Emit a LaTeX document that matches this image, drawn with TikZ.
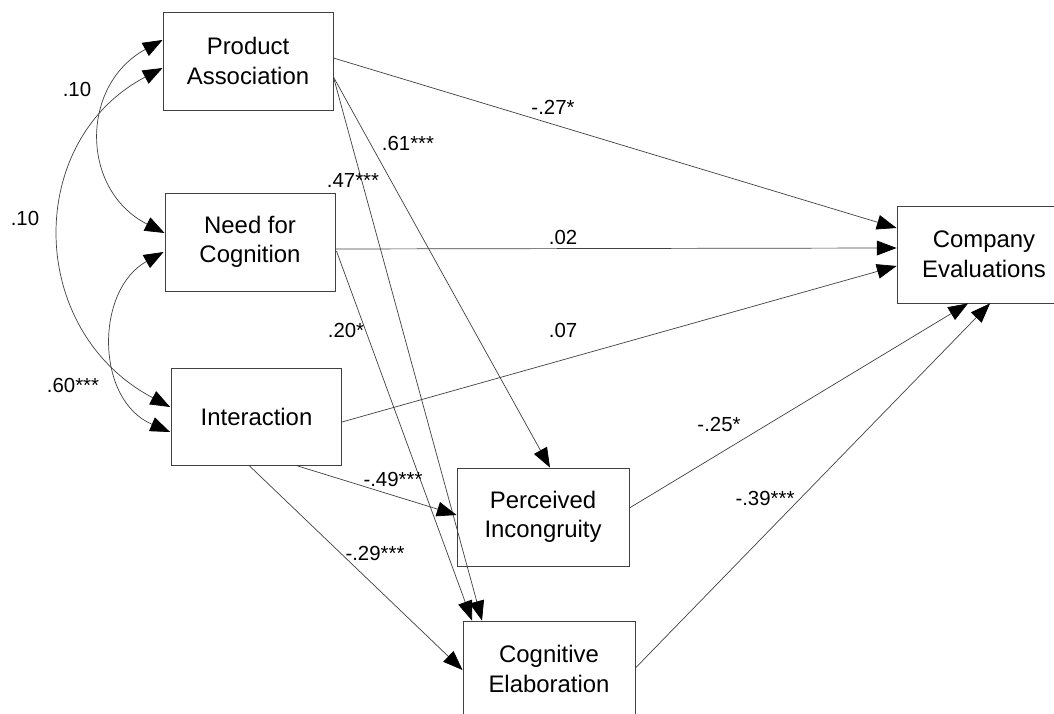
\documentclass[tikz,border=0pt]{standalone}
\usepackage{fontspec}
\setmainfont{Liberation Sans}
\usetikzlibrary{calc,arrows.meta}
\tikzset{
  var/.style={draw=black!75, line width=0.6pt, minimum width=4.25cm,
    minimum height=2.45cm, inner sep=0pt, align=center,
    font=\fontsize{17}{21}\selectfont},
  link/.style={draw=black!75, line width=0.5pt,
    -{Triangle[length=14pt,width=10.5pt,color=black]}},
  cov/.style={link, {Triangle[length=14pt,width=10.5pt,color=black]}-{Triangle[length=14pt,width=10.5pt,color=black]}},
  coef/.style={inner sep=0pt, font=\fontsize{14.5}{16}\selectfont}
}

\begin{document}
\begin{tikzpicture}[x=0.025cm, y=-0.025cm]
    \useasboundingbox (0,0) rectangle (1054,714);
    \clip (0,0) rectangle (1054,714);

    % variables
    \node [var] (pa) at (248,61) {Product\\Association};
    \node [var] (nfc) at (250,242) {Need for\\Cognition};
    \node [var, minimum height=2.425cm] (int) at (256.5,416.5) {Interaction};
    \node [var, minimum width=4.3cm] (pi) at (543,517) {Perceived\\Incongruity};
    \node [var, minimum width=4.3cm, minimum height=2.4cm] (cog) at (549,669) {Cognitive\\Elaboration};
    \node [var, minimum width=4.35cm, minimum height=2.425cm] (ce) at (984,254.5) {Company\\Evaluations};

    % correlations
    \draw [cov] ($(pa.west)+(0,-21)$) .. controls (80,85) and (80,190) .. ($(nfc.west)+(0,-9)$);
    \draw [cov] ($(pa.west)+(0,7)$) .. controls (25,140) and (25,330) .. ($(int.west)+(-1,-9.5)$);
    \draw [cov] ($(nfc.west)+(-1,10)$) .. controls (95,290) and (95,400) .. ($(int.west)+(-1,15.5)$);

    % paths to company evaluations
    \draw [link] ($(pa.east)+(0,-3)$) -- ($(ce.west)+(0,-26.5)$);
    \draw [link] ($(nfc.east)+(0,7)$) -- ($(ce.west)+(0,-6.5)$);
    \draw [link] ($(int.east)+(0,5.5)$) -- ($(ce.west)+(0,11.5)$);
    \draw [link] ($(pi.east)+(0,-9)$) -- ($(ce.south)+(-16,0)$);
    \draw [link] ($(cog.east)+(0,-1)$) -- ($(ce.south)+(6,0)$);

    % paths to mediators
    \draw [link] ($(pa.east)+(0,16)$) -- ($(pi.north)+(7,0)$);
    \draw [link] ($(pa.east)+(0,16)$) -- ($(cog.north)+(-67,0)$);
    \draw [link] ($(nfc.east)+(1,9)$) -- ($(cog.north)+(-77,0)$);
    \draw [link] ($(int.south)+(39.5,0)$) -- ($(pi.west)+(0,-2)$);
    \draw [link] ($(int.south)+(-7.5,0)$) -- ($(cog.west)+(0,1)$);

    % add labels
    \node [coef] (c1) at (77,89) {.10};
    \node [coef] (c2) at (25,218) {.10};
    \node [coef] (c3) at (73,385) {.60***};
    \node [coef] (c4) at (553,107) {-.27*};
    \node [coef] (c5) at (408,143) {.61***};
    \node [coef] (c6) at (353,180) {.47***};
    \node [coef] (c7) at (563,237) {.02};
    \node [coef] (c8) at (346,330) {.20*};
    \node [coef] (c9) at (563,330) {.07};
    \node [coef] (c10) at (393,479) {-.49***};
    \node [coef] (c11) at (375,553) {-.29***};
    \node [coef] (c12) at (719,424) {-.25*};
    \node [coef] (c13) at (765,498) {-.39***};
\end{tikzpicture}
\end{document}
